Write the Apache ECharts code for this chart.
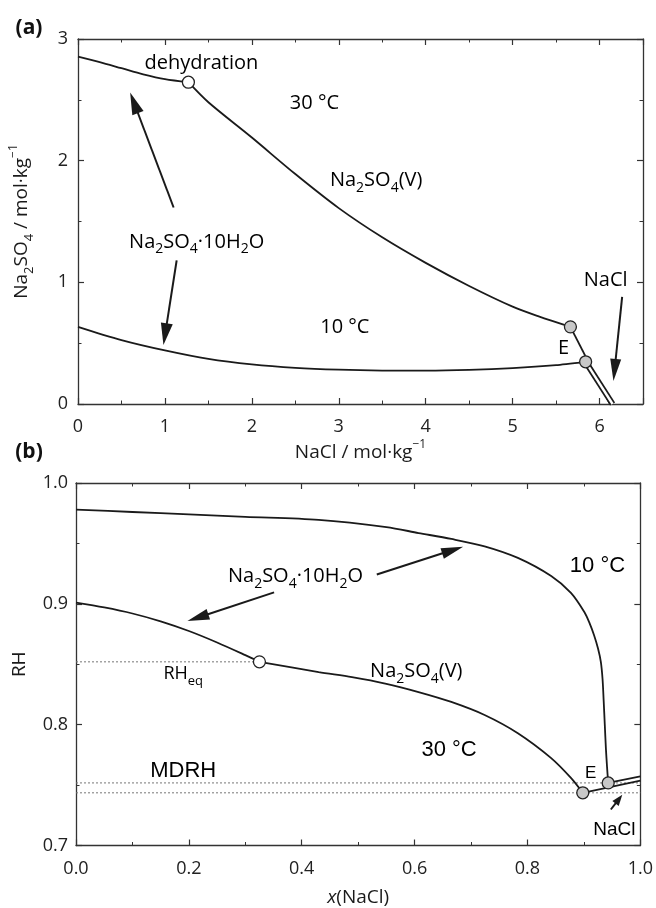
<!DOCTYPE html>
<html>
<head>
<meta charset="utf-8">
<script src="https://cdn.jsdelivr.net/npm/echarts@6/dist/echarts.min.js"></script>
<style>
  html, body { margin: 0; padding: 0; background: #fff; }
  #chart { width: 656px; height: 908px; }
</style>
</head>
<body>
<div id="chart"></div>
<script>
// ---- panel (a): molality diagram ----
// 30 °C, Na2SO4·10H2O branch
const a30DecaNaCl = [0, 0.25, 0.5, 0.75, 1.0, 1.27];
const a30DecaSO4 = [2.855, 2.81, 2.76, 2.71, 2.67, 2.645];
// 30 °C, Na2SO4(V) branch
const a30ThenNaCl = [1.27, 1.5, 2.0, 2.5, 3.0, 3.5, 4.0, 4.5, 5.0, 5.3, 5.665];
const a30ThenSO4 = [2.645, 2.48, 2.19, 1.89, 1.61, 1.37, 1.16, 0.97, 0.8, 0.72, 0.634];
// 10 °C, Na2SO4·10H2O branch
const a10NaCl = [0, 0.5, 1.0, 1.5, 2.0, 2.5, 3.0, 3.5, 4.0, 4.5, 5.0, 5.5, 5.84];
const a10SO4 = [0.634, 0.525, 0.44, 0.37, 0.325, 0.297, 0.282, 0.275, 0.274, 0.28, 0.295, 0.32, 0.347];
// NaCl branches
const a30HaliteNaCl = [5.665, 6.12];
const a30HaliteSO4 = [0.634, 0];
const a10HaliteNaCl = [5.84, 6.15];
const a10HaliteSO4 = [0.347, 0];
// special points
const aDehydration = [1.27, 2.645];
const aEutonicNaCl = [5.665, 5.84];
const aEutonicSO4 = [0.634, 0.347];

// ---- panel (b): RH vs x(NaCl) ----
const b10X = [0, 0.1, 0.2, 0.3, 0.43, 0.55, 0.607, 0.665, 0.724, 0.783, 0.842, 0.877, 0.901, 0.91, 0.918, 0.925, 0.93, 0.933, 0.935, 0.937, 0.939, 0.941, 0.943];
const b10RH = [0.978, 0.976, 0.974, 0.972, 0.9695, 0.9635, 0.9586, 0.9537, 0.9476, 0.938, 0.923, 0.909, 0.893, 0.884, 0.874, 0.863, 0.852, 0.838, 0.82, 0.8, 0.78, 0.765, 0.7518];
const b30DecaX = [0, 0.05, 0.1, 0.15, 0.2, 0.25, 0.3, 0.325];
const b30DecaRH = [0.901, 0.897, 0.892, 0.8855, 0.8775, 0.868, 0.8575, 0.852];
const b30ThenX = [0.325, 0.43, 0.489, 0.548, 0.607, 0.665, 0.724, 0.783, 0.842, 0.877, 0.898];
const b30ThenRH = [0.852, 0.8435, 0.8393, 0.834, 0.827, 0.8188, 0.808, 0.7929, 0.7723, 0.7559, 0.7436];
const b30HaliteX = [0.898, 1.0];
const b30HaliteRH = [0.7436, 0.7537];
const b10HaliteX = [0.943, 1.0];
const b10HaliteRH = [0.7518, 0.7573];
const bRHeq = [0.325, 0.852];
const bEutonicX = [0.898, 0.943];
const bEutonicRH = [0.7436, 0.7518];
const bMDRH = [0.7518, 0.7436];

// tick labels
const aXTicks = ['0', '1', '2', '3', '4', '5', '6'];
const aYTicks = ['0', '1', '2', '3'];
const bXTicks = ['0.0', '0.2', '0.4', '0.6', '0.8', '1.0'];
const bYTicks = ['0.7', '0.8', '0.9', '1.0'];

const zip = (xs, ys) => xs.map((x, i) => [x, ys[i]]);
const FONT = "'Open Sans', sans-serif";
const ARIAL = "'Liberation Sans', Arial, sans-serif";
const INK = '#1a1a1a';

// rich text pieces: n normal, s subscript, u superscript, i italic
function richSet(size, family) {
  return {
    n: { fontSize: size, fontFamily: family, color: INK, lineHeight: 28 },
    i: { fontSize: size, fontFamily: family, color: INK, lineHeight: 28, fontStyle: 'italic' },
    s: { fontSize: Math.round(size * 0.7), fontFamily: family, color: INK, lineHeight: 12, verticalAlign: 'bottom' },
    u: { fontSize: Math.round(size * 0.65), fontFamily: family, color: INK, lineHeight: 14, verticalAlign: 'top' }
  };
}

function axis(opt) {
  const base = {
    type: 'value',
    axisLine: { show: true, onZero: false, lineStyle: { color: '#333', width: 1.3 } },
    axisTick: { show: true, inside: true, length: 6, lineStyle: { color: '#333', width: 1.2 } },
    minorTick: { show: true, splitNumber: 2, length: 3.5, lineStyle: { color: '#333', width: 1 } },
    splitLine: { show: false },
    minorSplitLine: { show: false },
    axisLabel: { show: false }
  };
  return Object.assign(base, opt);
}

function tickLabel(labels, margin, digits) {
  return {
    show: true, margin: margin, fontSize: 18, fontFamily: FONT, color: '#222',
    showMaxLabel: true,
    formatter: function (v) {
      const s = v.toFixed(digits);
      return labels.indexOf(s) >= 0 ? s : '';
    }
  };
}

function curve(data, xi, width) {
  return {
    type: 'line', data: data, xAxisIndex: xi, yAxisIndex: xi,
    showSymbol: false, symbol: 'none', smooth: 0.3, silent: true,
    lineStyle: { color: INK, width: width || 1.8 }, z: 2
  };
}

function dotted(data, xi) {
  return {
    type: 'line', data: data, xAxisIndex: xi, yAxisIndex: xi,
    showSymbol: false, symbol: 'none', silent: true,
    lineStyle: { color: '#777', width: 1, type: [2, 2] }, z: 1
  };
}

function points(data, xi, fill) {
  return {
    type: 'scatter', data: data, xAxisIndex: xi, yAxisIndex: xi,
    symbolSize: 12, silent: true, z: 5,
    itemStyle: { color: fill, borderColor: '#222', borderWidth: 1.3, opacity: 1 }
  };
}

const chart = echarts.init(document.getElementById('chart'));

chart.setOption({
  animation: false,
  backgroundColor: '#fff',
  grid: [
    { left: 76, top: 39, width: 567, height: 365 },
    { left: 76, top: 483, width: 567, height: 365 }
  ],
  xAxis: [
    axis({ gridIndex: 0, position: 'bottom', min: 0, max: 6.5, interval: 1,
      axisLabel: Object.assign(tickLabel(aXTicks, 14, 0), { showMaxLabel: false }),
      name: '{n|NaCl / mol·kg}{u|−1}', nameLocation: 'middle', nameGap: 35,
      nameTextStyle: { rich: richSet(19, FONT) } }),
    axis({ gridIndex: 0, position: 'top', min: 0, max: 6.5, interval: 1 }),
    axis({ gridIndex: 1, position: 'bottom', min: 0, max: 1, interval: 0.2,
      axisLabel: tickLabel(bXTicks, 14, 1),
      name: '{i|x}{n|(NaCl)}', nameLocation: 'middle', nameGap: 38,
      nameTextStyle: { rich: richSet(19, FONT) } }),
    axis({ gridIndex: 1, position: 'top', min: 0, max: 1, interval: 0.2 })
  ],
  yAxis: [
    axis({ gridIndex: 0, position: 'left', min: 0, max: 3, interval: 1,
      axisLabel: tickLabel(aYTicks, 10, 0),
      name: '{n|Na}{s|2}{n|SO}{s|4}{n| / mol·kg}{u|−1}', nameLocation: 'middle', nameGap: 42, nameRotate: 90,
      nameTextStyle: { rich: richSet(19, FONT) } }),
    axis({ gridIndex: 0, position: 'right', min: 0, max: 3, interval: 1 }),
    axis({ gridIndex: 1, position: 'left', min: 0.7, max: 1.0, interval: 0.1,
      axisLabel: tickLabel(bYTicks, 8, 1),
      name: '{n|RH}', nameLocation: 'middle', nameGap: 42, nameRotate: 90,
      nameTextStyle: { rich: richSet(19, FONT) } }),
    axis({ gridIndex: 1, position: 'right', min: 0.7, max: 1.0, interval: 0.1 })
  ],
  series: [
    // panel (a)
    curve(zip(a30DecaNaCl, a30DecaSO4), 0),
    curve(zip(a30ThenNaCl, a30ThenSO4), 0),
    curve(zip(a10NaCl, a10SO4), 0),
    curve(zip(a30HaliteNaCl, a30HaliteSO4), 0),
    // 10 °C NaCl branch drawn as a double line
    curve(zip(a10HaliteNaCl, a10HaliteSO4), 0, 6),
    Object.assign(curve(zip(a10HaliteNaCl, a10HaliteSO4), 0, 2.4), { lineStyle: { color: '#fff', width: 2.4 }, z: 3 }),
    points([aDehydration], 0, '#fff'),
    points(zip(aEutonicNaCl, aEutonicSO4), 0, '#c8c8c8'),
    // panel (b)
    dotted([[0, bRHeq[1]], bRHeq], 2),
    dotted([[0, bMDRH[0]], [1, bMDRH[0]]], 2),
    dotted([[0, bMDRH[1]], [1, bMDRH[1]]], 2),
    curve(zip(b10X, b10RH), 2),
    curve(zip(b30DecaX, b30DecaRH), 2),
    curve(zip(b30ThenX, b30ThenRH), 2),
    curve(zip(b30HaliteX, b30HaliteRH), 2),
    curve(zip(b10HaliteX, b10HaliteRH), 2),
    points([bRHeq], 2, '#fff'),
    points(zip(bEutonicX, bEutonicRH), 2, '#c8c8c8')
  ]
});

// ---- annotations (placed in data coordinates) ----
const labelsA = [
  { t: '{n|dehydration}', at: [1.42, 2.8] },
  { t: '{n|30 °C}', at: [2.72, 2.475] },
  { t: '{n|Na}{s|2}{n|SO}{s|4}{n|(V)}', at: [3.43, 1.836] },
  { t: '{n|Na}{s|2}{n|SO}{s|4}{n|·10H}{s|2}{n|O}', at: [1.365, 1.33] },
  { t: '{n|10 °C}', at: [3.07, 0.63] },
  { t: '{n|E}', at: [5.585, 0.46] },
  { t: '{n|NaCl}', at: [6.07, 1.016] }
];
const labelsB = [
  { t: '{n|10 °C}', at: [0.924, 0.931], f: ARIAL, size: 22 },
  { t: '{n|Na}{s|2}{n|SO}{s|4}{n|·10H}{s|2}{n|O}', at: [0.389, 0.9226] },
  { t: '{n|RH}{s|eq}', at: [0.19, 0.842], size: 18 },
  { t: '{n|Na}{s|2}{n|SO}{s|4}{n|(V)}', at: [0.603, 0.8438] },
  { t: '{n|30 °C}', at: [0.661, 0.779], f: ARIAL, size: 22 },
  { t: '{n|MDRH}', at: [0.19, 0.7616], f: ARIAL, size: 22 },
  { t: '{n|E}', at: [0.912, 0.76], f: ARIAL, size: 17 },
  { t: '{n|NaCl}', at: [0.954, 0.713], f: ARIAL, size: 19 }
];
// arrows: tail, tip, head length, head width
const arrowsA = [
  { from: [1.10, 1.615], to: [0.60, 2.56], len: 22, w: 12 },
  { from: [1.135, 1.18], to: [0.983, 0.484], len: 22, w: 12 },
  { from: [6.26, 0.88], to: [6.16, 0.19], len: 22, w: 11 }
];
const arrowsB = [
  { from: [0.533, 0.9243], to: [0.686, 0.9473], len: 22, w: 11 },
  { from: [0.351, 0.9095], to: [0.1975, 0.8857], len: 22, w: 11 },
  { from: [0.9477, 0.7298], to: [0.968, 0.742], len: 11, w: 8 }
];

const graphics = [];
function addLabels(list, gridIndex) {
  list.forEach(function (l) {
    const p = chart.convertToPixel({ gridIndex: gridIndex }, l.at);
    graphics.push({
      type: 'text', x: p[0], y: p[1], silent: true, z: 10,
      style: { text: l.t, rich: richSet(l.size || 20, l.f || FONT), align: 'center', verticalAlign: 'middle' }
    });
  });
}
function addArrows(list, gridIndex) {
  list.forEach(function (a) {
    const p0 = chart.convertToPixel({ gridIndex: gridIndex }, a.from);
    const p1 = chart.convertToPixel({ gridIndex: gridIndex }, a.to);
    const dx = p1[0] - p0[0], dy = p1[1] - p0[1];
    const d = Math.sqrt(dx * dx + dy * dy);
    const ux = dx / d, uy = dy / d;
    const bx = p1[0] - ux * a.len, by = p1[1] - uy * a.len;
    const nx = -uy * a.w / 2, ny = ux * a.w / 2;
    graphics.push({
      type: 'line', silent: true, z: 10,
      shape: { x1: p0[0], y1: p0[1], x2: bx + ux * 2, y2: by + uy * 2 },
      style: { stroke: INK, lineWidth: 2 }
    });
    graphics.push({
      type: 'polygon', silent: true, z: 10,
      shape: { points: [[p1[0], p1[1]], [bx + nx, by + ny], [bx - nx, by - ny]] },
      style: { fill: INK }
    });
  });
}
addLabels(labelsA, 0);
addLabels(labelsB, 1);
addArrows(arrowsA, 0);
addArrows(arrowsB, 1);
// panel letters
graphics.push({ type: 'text', x: 29, y: 28, silent: true,
  style: { text: '(a)', font: "bold 21px 'Open Sans', sans-serif", fill: '#111', align: 'center', verticalAlign: 'middle' } });
graphics.push({ type: 'text', x: 29, y: 452, silent: true,
  style: { text: '(b)', font: "bold 21px 'Open Sans', sans-serif", fill: '#111', align: 'center', verticalAlign: 'middle' } });

chart.setOption({ graphic: graphics });
</script>
</body>
</html>
